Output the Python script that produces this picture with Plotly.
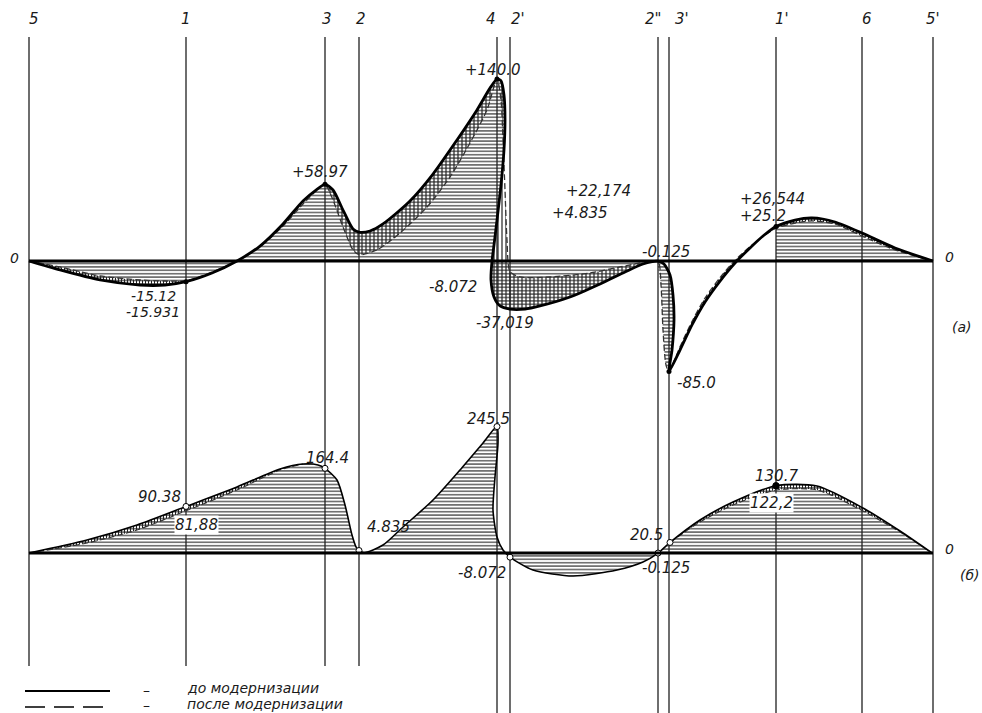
import plotly.graph_objects as go

# ---------------- data ----------------
# section names and their positions along the chart (length units)
section_names = ["5", "1", "3", "2", "4", "2'", "2\"", "3'", "1'", "6", "5'"]
section_pos = [29, 186, 325, 359, 497, 510, 658, 669, 776, 862, 933]

# diagram (a): before modernisation (solid)
a_before_x = [29, 60, 100, 140, 165, 186, 212, 237, 260, 283, 303, 316, 325,
              333, 343, 353, 359, 370, 383, 410, 433, 457, 477, 490, 497,
              501, 504, 505, 504, 501, 497, 494, 492, 491, 494, 500, 510,
              525, 540, 570, 600, 625, 643, 658,
              664, 670, 673, 674, 672, 669,
              680, 692, 705, 720, 735, 750, 763, 776,
              795, 812, 835, 862, 895, 933]
a_before_y = [0, -6.9, -14.6, -18.5, -18.5, -15.931, -9.2, 0, 11.5, 28.5, 46.2, 54.6, 58.97,
              54.6, 39.2, 24.6, 22.174, 23.1, 28.5, 46.2, 66.9, 93.1, 116.2, 133, 140.0,
              138.5, 127.7, 108.5, 85.4, 58.5, 31.5, 12.3, 0, -14.6, -27.7, -34.6, -37.019,
              -37.0, -34.6, -27.7, -17.7, -8.5, -2.3, -0.125,
              -2.3, -10.8, -26.2, -45.4, -68.5, -85.0,
              -68.5, -49.2, -31.5, -15.4, -1.5, 10, 19.2, 26.544,
              31.5, 33.1, 30, 21.5, 10, 0]

# diagram (a): after modernisation (dashed)
a_after_x = [29, 60, 100, 140, 165, 186, 212, 237, 260, 283, 303, 316, 325,
             333, 343, 353, 359, 377, 400, 427, 450, 470, 487, 497,
             501, 503, 505, 507, 510, 520, 550, 590, 620, 645, 658,
             661, 663, 666, 669,
             680, 692, 705, 720, 735, 750, 763, 776,
             795, 812, 835, 862, 895, 933]
a_after_y = [0, -4.6, -11.5, -14.6, -15.4, -15.12, -8.5, 0, 10.8, 26.9, 43.8, 53.8, 58.97,
             46.9, 26.2, 8.5, 4.835, 8.5, 21.5, 41.5, 64.6, 90.8, 116.2, 140.0,
             123.8, 93.1, 54.6, 16.2, -8.072, -12.3, -12.3, -9.2, -4.6, -0.8, -0.125,
             -18.5, -53, -80, -85.0,
             -66, -46.5, -28.5, -12.8, 0.5, 11, 18.8, 25.2,
             29.2, 30.8, 28.5, 19.2, 8.5, 0]

# diagram (б): before modernisation (solid)
b_before_x = [29, 87, 137, 186, 237, 280, 303, 318, 325,
              337, 345, 352, 356, 359, 364,
              383, 403, 433, 460, 483, 497,
              498, 495, 493, 497, 503, 510,
              533, 573, 617, 643, 658,
              670, 700, 733, 776, 817, 863, 900, 932]
b_before_y = [0, 25.2, 54.4, 90.38, 128.2, 163.1, 172.8, 170.9, 164.4,
              141.7, 93.2, 35, 12, 4.835, 0.5,
              15.5, 50.5, 102.9, 161.2, 213.6, 245.5,
              213.6, 147.6, 83.5, 31.1, 5.8, -8.072,
              -33, -44.7, -33, -17.5, -0.125,
              20.5, 64.1, 99, 130.7, 130, 87.4, 42.7, 0]

# diagram (б): after modernisation (dashed) where it differs
b_after_left_x = [29, 87, 137, 186, 237, 280, 303]
b_after_left_y = [0, 19.4, 44.7, 81.88, 122.3, 161.2, 172.8]
b_after_right_x = [670, 700, 733, 776, 817, 863, 900, 932]
b_after_right_y = [20.5, 60.2, 93.2, 122.2, 122.3, 81.6, 40.8, 0]

# marked points in (б)
b_mark_x = [186, 325, 359, 497, 510, 658, 670, 776]
b_mark_y = [90.38, 164.4, 4.835, 245.5, -8.072, -0.125, 20.5, 130.7]
# marked points in (a)
a_mark_x = [186, 325, 497, 669, 776]
a_mark_y = [-15.931, 58.97, 140.0, -85.0, 26.544]

# value labels
a_labels = ["+58.97", "+140.0", "+22,174", "+4.835", "-8.072", "-37,019",
            "-15.12", "-15.931", "-0.125", "-85.0", "+26,544", "+25.2"]
b_labels = ["90.38", "81,88", "164.4", "4.835", "245.5", "-8.072",
            "20.5", "-0.125", "130.7", "122,2"]
legend_labels = ["до модернизации", "после модернизации"]

# ---------------- figure ----------------
W, H = 982, 713
FONT = "DejaVu Sans"
INK = "#1a1a1a"

def px(x):
    return x / W

def py(y):
    return 1 - y / H

fig = go.Figure()

HPAT = dict(shape="-", size=3.4, solidity=0.32, fgcolor="#222", bgcolor="rgba(0,0,0,0)", fgopacity=1)
VPAT = dict(shape="|", size=4, solidity=0.3, fgcolor="#222", bgcolor="rgba(0,0,0,0)", fgopacity=1)
VPAT2 = dict(shape="|", size=3, solidity=0.35, fgcolor="#222", bgcolor="rgba(0,0,0,0)", fgopacity=1)
SM = 0.7


def band(x1, y1, x2, y2, pat, yaxis="y"):
    xs = list(x1) + list(reversed(x2))
    ys = list(y1) + list(reversed(y2))
    fig.add_trace(go.Scatter(x=xs, y=ys, mode="lines", fill="toself",
                             fillcolor="rgba(0,0,0,0)", fillpattern=pat,
                             line=dict(width=0, shape="spline", smoothing=SM),
                             hoverinfo="skip", showlegend=False, yaxis=yaxis))


def tozero(xs, ys, pat, yaxis="y"):
    fig.add_trace(go.Scatter(x=xs, y=ys, mode="lines", fill="tozeroy",
                             fillcolor="rgba(0,0,0,0)", fillpattern=pat,
                             line=dict(width=0, shape="spline", smoothing=SM),
                             hoverinfo="skip", showlegend=False, yaxis=yaxis))


# indices in (a)
ib = a_before_x.index
ia = a_after_x.index
i658b = ib(658); i669b = ib(669); i776b = ib(776); i237b = ib(237); i325b = ib(325)
i658a = ia(658); i669a = ia(669); i776a = ia(776); i237a = ia(237); i325a = ia(325)

# horizontal hatching (a)
tozero(a_before_x[:i658b + 1], a_before_y[:i658b + 1], HPAT)
band(a_before_x[i658b:i669b + 1], a_before_y[i658b:i669b + 1],
     a_after_x[i658a:i669a + 1], a_after_y[i658a:i669a + 1], HPAT)
tozero(a_before_x[i776b:], a_before_y[i776b:], HPAT)
# vertical hatching (a): differences
band(a_before_x[:i237b + 1], a_before_y[:i237b + 1], a_after_x[:i237a + 1], a_after_y[:i237a + 1], VPAT2)
band(a_before_x[i325b:i658b + 1], a_before_y[i325b:i658b + 1],
     a_after_x[i325a:i658a + 1], a_after_y[i325a:i658a + 1], VPAT)
band(a_before_x[i669b:], a_before_y[i669b:], a_after_x[i669a:], a_after_y[i669a:], VPAT2)

# hatching (б)
tozero(b_before_x, b_before_y, HPAT, "y2")
n = len(b_after_left_x)
band(b_before_x[:n], b_before_y[:n], b_after_left_x, b_after_left_y, VPAT2, "y2")
j = b_before_x.index(670)
band(b_before_x[j:], b_before_y[j:], b_after_right_x, b_after_right_y, VPAT2, "y2")

# curves
fig.add_trace(go.Scatter(x=a_after_x, y=a_after_y, mode="lines",
                         line=dict(color="#333", width=1.3, dash="6px,3px", shape="spline", smoothing=SM),
                         hoverinfo="skip", showlegend=False))
fig.add_trace(go.Scatter(x=a_before_x, y=a_before_y, mode="lines",
                         line=dict(color="black", width=2.8, shape="spline", smoothing=SM),
                         hoverinfo="skip", showlegend=False))
fig.add_trace(go.Scatter(x=b_after_left_x, y=b_after_left_y, mode="lines",
                         line=dict(color="#333", width=1.1, dash="6px,3px", shape="spline", smoothing=SM),
                         hoverinfo="skip", showlegend=False, yaxis="y2"))
fig.add_trace(go.Scatter(x=b_after_right_x, y=b_after_right_y, mode="lines",
                         line=dict(color="#333", width=1.1, dash="6px,3px", shape="spline", smoothing=SM),
                         hoverinfo="skip", showlegend=False, yaxis="y2"))
fig.add_trace(go.Scatter(x=b_before_x, y=b_before_y, mode="lines",
                         line=dict(color="black", width=1.6, shape="spline", smoothing=SM),
                         hoverinfo="skip", showlegend=False, yaxis="y2"))

# markers
fig.add_trace(go.Scatter(x=a_mark_x, y=a_mark_y, mode="markers",
                         marker=dict(size=5, color="black"), hoverinfo="skip", showlegend=False))
fig.add_trace(go.Scatter(x=b_mark_x, y=b_mark_y, mode="markers",
                         marker=dict(size=6, color="white", line=dict(color="black", width=1)),
                         hoverinfo="skip", showlegend=False, yaxis="y2"))
fig.add_trace(go.Scatter(x=b_mark_x[-1:], y=b_mark_y[-1:], mode="markers",
                         marker=dict(size=7, color="black"),
                         hoverinfo="skip", showlegend=False, yaxis="y2"))

shapes = []
# vertical section lines
for name, xpos in zip(section_names, section_pos):
    bottom = 666 if xpos < 400 else 713
    shapes.append(dict(type="line", xref="x", yref="paper", x0=xpos, x1=xpos,
                       y0=py(bottom), y1=py(37), line=dict(color="#4a4a4a", width=1.6), layer="below"))
# zero lines
shapes.append(dict(type="line", xref="x", yref="y", x0=section_pos[0], x1=section_pos[-1],
                   y0=0, y1=0, line=dict(color="black", width=3)))
shapes.append(dict(type="line", xref="x", yref="y2", x0=section_pos[0], x1=section_pos[-1],
                   y0=0, y1=0, line=dict(color="black", width=3)))
# legend lines
shapes.append(dict(type="line", xref="paper", yref="paper", x0=px(25), x1=px(110),
                   y0=py(691), y1=py(691), line=dict(color="black", width=2)))
shapes.append(dict(type="line", xref="paper", yref="paper", x0=px(25), x1=px(110),
                   y0=py(707), y1=py(707), line=dict(color="black", width=1.4, dash="20px,9px")))

anns = []

def txt(t, x, y, size=15, anchor="left", bg=None):
    d = dict(text=t, x=px(x), y=py(y), xref="paper", yref="paper", showarrow=False,
             xanchor=anchor, yanchor="middle",
             font=dict(family=FONT, size=size, color=INK, style="italic"))
    if bg:
        d["bgcolor"] = bg
        d["borderpad"] = 0
    anns.append(d)

top_label_x = [34, 186, 327, 361, 491, 518, 653, 682, 782, 867, 933]
for name, xl in zip(section_names, top_label_x):
    txt(name, xl, 19, size=15, anchor="center")

txt("0", 14, 258, 14, "center")
txt("0", 949, 257, 14, "center")
txt("0", 949, 549, 14, "center")
txt("(a)", 950, 327, 14)
txt("(б)", 958, 575, 14)

a_pos = [(290, 172), (463, 70), (564, 191), (550, 213), (427, 287), (474, 323),
         (129, 296), (124, 312), (640, 252), (675, 383), (738, 199), (738, 216)]
a_size = [15, 15, 15, 15, 15, 15, 14, 14, 15, 15, 15, 15]
for t, (x, y), s in zip(a_labels, a_pos, a_size):
    txt(t, x, y, s)

b_pos = [(136, 497), (174, 525), (304, 458), (365, 527), (465, 419), (456, 573),
         (628, 535), (640, 568), (753, 476), (749, 503)]
b_bg = [None, "white", None, None, None, None, None, None, None, "white"]
for t, (x, y), bg in zip(b_labels, b_pos, b_bg):
    txt(t, x, y, 15, bg=bg)

txt("–", 146, 690, 14, "center")
txt("–", 146, 705, 14, "center")
txt(legend_labels[0], 185, 688, 14)
txt(legend_labels[1], 185, 704, 14)

fig.update_layout(
    width=W, height=H,
    margin=dict(l=0, r=0, t=0, b=0),
    paper_bgcolor="white", plot_bgcolor="white",
    showlegend=False,
    xaxis=dict(range=[0, W], visible=False, fixedrange=True),
    yaxis=dict(range=[-(H - 261) / 1.3, 261 / 1.3], visible=False, domain=[0, 1]),
    yaxis2=dict(range=[-(H - 553) / 0.515, 553 / 0.515], visible=False, overlaying="y"),
    shapes=shapes,
    annotations=anns,
)

fig.write_html("out.html", config={"displayModeBar": False},
               post_script="document.body.style.margin='0';document.body.style.overflow='hidden';")
